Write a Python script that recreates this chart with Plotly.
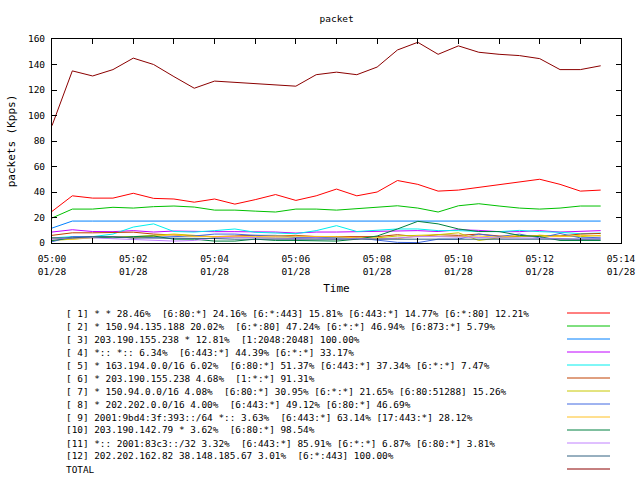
import pandas as pd
import plotly.graph_objects as go

# sample times: every 30 s from 05:00:00 to 05:13:30
times = pd.date_range("2024-01-28 05:00:00", periods=28, freq="30s")

s1 = [24.8, 37, 35.2, 35.2, 39, 35, 34.5, 32, 34.5, 30.5, 34, 38, 33.4, 37,
      42.3, 37, 40, 49, 46, 40.7, 41.5, 43.6, 45.7, 47.8, 50, 46, 40.7, 41.5]
s2 = [19.6, 26.6, 26.6, 28, 27.4, 28.5, 29, 28.2, 25.8, 25.8, 25, 24.3, 26.6, 26.6,
      25.8, 27, 28.2, 29.2, 27.4, 24.3, 29.2, 30.8, 29, 27.4, 26.6, 27.4, 29, 29]
s3 = [11.7, 17.2, 17.2, 17.2, 17.2, 17.2, 17.2, 17.2, 17.2, 17.2, 17.2, 17.2, 17.2, 17.2,
      17.2, 17.2, 17.2, 17.2, 17.2, 17.2, 17.2, 17.2, 17.2, 17.2, 17.2, 17.2, 17.2, 17.2]
s4 = [8.6, 10.4, 9, 8.9, 9.7, 8.6, 9.4, 8.9, 8.9, 8.9, 8.9, 8.6, 7.8, 8.6,
      8.6, 8.9, 9, 9, 9.7, 9, 10.4, 9.9, 8.9, 8.9, 9.7, 8.6, 8.9, 9.7]
s5 = [4, 5, 5, 7, 12.5, 15, 9, 8.6, 9.7, 11, 8.4, 7.8, 7.3, 9.7,
      13.6, 9, 9.7, 11, 11, 9.7, 9.7, 9, 8.9, 9.9, 8.9, 8.4, 7.3, 7.8]
s6 = [6, 8, 8, 8, 8.5, 7, 6.5, 6, 5, 5.5, 6, 5.5, 6, 5,
      5, 5.5, 5, 6.5, 5, 6.5, 6, 7, 5.5, 5, 6, 5.5, 7, 7.5]
s7 = [2, 3, 4, 5, 5, 6, 7, 6, 4.5, 4.5, 4, 4, 4, 4,
      4, 4.5, 4, 5.5, 6, 6.5, 8, 2, 4, 5, 6, 5.5, 5, 6]
s8 = [1, 5, 5, 5, 4, 4.5, 5, 5.5, 7, 7, 6, 6, 4.5, 4,
      4, 4, 2, 0.5, 0.3, 3, 3, 7, 5, 7, 4, 7.5, 4, 4.5]
s9 = [4, 3, 4.5, 5, 4, 5, 6.5, 5, 5, 4.5, 5, 5.5, 5.5, 5,
      5, 4, 4, 3.5, 5.5, 5, 5, 5.5, 4.5, 6, 5, 5, 6, 5.5]
s10 = [2, 4, 4.5, 4, 5, 5.5, 3, 3, 1.5, 1.5, 3, 2, 2, 1.5,
       1.5, 3, 5.5, 11, 17, 15, 11, 9, 9, 6, 5, 2, 2, 2]
s11 = [3, 4, 4, 3.5, 3, 2, 1.5, 2, 4, 4.5, 4, 3.5, 3.5, 4,
       3, 3.5, 3, 4, 5, 5, 4.5, 4, 4, 4, 4, 3.5, 3, 3.5]
s12 = [4, 4, 5, 5, 4, 4, 3.5, 3.5, 3.5, 3, 3, 3, 3, 3,
       3, 3, 3, 3, 3, 3, 3, 3, 3, 3, 3, 3.5, 3.5, 3]
total = [92, 135, 131, 136, 145, 140, 130.5, 121.4, 127, 126, 125, 124, 123, 132,
         134, 132, 138, 151.4, 157.4, 148, 154.6, 149.6, 148, 147, 144.6, 136, 136, 139]

labels = [
    "[ 1] * * 28.46%  [6:80:*] 24.16% [6:*:443] 15.81% [6:443:*] 14.77% [6:*:80] 12.21%",
    "[ 2] * 150.94.135.188 20.02%  [6:*:80] 47.24% [6:*:*] 46.94% [6:873:*] 5.79%",
    "[ 3] 203.190.155.238 * 12.81%  [1:2048:2048] 100.00%",
    "[ 4] *:: *:: 6.34%  [6:443:*] 44.39% [6:*:*] 33.17%",
    "[ 5] * 163.194.0.0/16 6.02%  [6:80:*] 51.37% [6:443:*] 37.34% [6:*:*] 7.47%",
    "[ 6] * 203.190.155.238 4.68%  [1:*:*] 91.31%",
    "[ 7] * 150.94.0.0/16 4.08%  [6:80:*] 30.95% [6:*:*] 21.65% [6:80:51288] 15.26%",
    "[ 8] * 202.202.0.0/16 4.00%  [6:443:*] 49.12% [6:80:*] 46.69%",
    "[ 9] 2001:9bd4:3f:393::/64 *:: 3.63%  [6:443:*] 63.14% [17:443:*] 28.12%",
    "[10] 203.190.142.79 * 3.62%  [6:80:*] 98.54%",
    "[11] *:: 2001:83c3::/32 3.32%  [6:443:*] 85.91% [6:*:*] 6.87% [6:80:*] 3.81%",
    "[12] 202.202.162.82 38.148.185.67 3.01%  [6:*:443] 100.00%",
    "TOTAL",
]
series = [s1, s2, s3, s4, s5, s6, s7, s8, s9, s10, s11, s12, total]
colors = ["#ff0000", "#00c000", "#0080ff", "#c000ff", "#00eeee", "#c04000", "#c8c800",
          "#4169e1", "#ffc020", "#008040", "#c080ff", "#306080", "#8b0000"]

font = "DejaVu Sans Mono"

fig = go.Figure()
for name, ys, c in zip(labels, series, colors):
    fig.add_trace(go.Scatter(x=times, y=ys, mode="lines", name=name,
                             line=dict(color=c, width=1), showlegend=False))

# gnuplot-style key below the plot: text on the left, line sample on the right
plot_h = 204.0
plot_w = 569.0
for i, (name, c) in enumerate(zip(labels, colors)):
    py = 313 + 13 * i
    yp = (243 - py) / plot_h
    fig.add_annotation(x=(64 - 52) / plot_w, y=yp, xref="paper", yref="paper",
                       text=name, showarrow=False, xanchor="left", yanchor="middle",
                       font=dict(family=font, size=9.4, color="black"))
    fig.add_shape(type="line", xref="paper", yref="paper",
                  x0=(567 - 52) / plot_w, x1=(610 - 52) / plot_w, y0=yp, y1=yp,
                  line=dict(color=c, width=1))

tick_minutes = list(range(0, 15))
tickvals = pd.date_range("2024-01-28 05:00:00", periods=15, freq="1min")
ticktext = [f"05:{m:02d}<br>01/28" if m % 2 == 0 else "" for m in tick_minutes]

fig.update_layout(
    width=640, height=480,
    margin=dict(l=52, r=19, t=39, b=237),
    paper_bgcolor="white", plot_bgcolor="white",
    font=dict(family=font, size=9.5, color="black"),
    title=dict(text="packet", x=0.526, xanchor="center", y=1 - 19 / 480,
               yanchor="middle", font=dict(family=font, size=9.5)),
    xaxis=dict(range=["2024-01-28 05:00:00", "2024-01-28 05:14:00"],
               tickvals=tickvals, ticktext=ticktext, ticks="inside", ticklen=5,
               tickcolor="black", showline=True, linecolor="black", linewidth=1,
               mirror="ticks", showgrid=False, zeroline=False, ticklabelstandoff=7,
               automargin=False, title=dict(text="Time", standoff=8)),
    yaxis=dict(range=[0, 160], dtick=20, ticks="inside", ticklen=5,
               tickcolor="black", showline=True, linecolor="black", linewidth=1,
               mirror="ticks", showgrid=False, zeroline=False, ticklabelstandoff=4,
               automargin=False, title=dict(text="packets (Kpps)", standoff=10)),
)

# drop the page's default body margin so the figure sits at the window's corner
fig.write_html("out.html", config={"displayModeBar": False},
               post_script="document.body.style.margin='0';")
